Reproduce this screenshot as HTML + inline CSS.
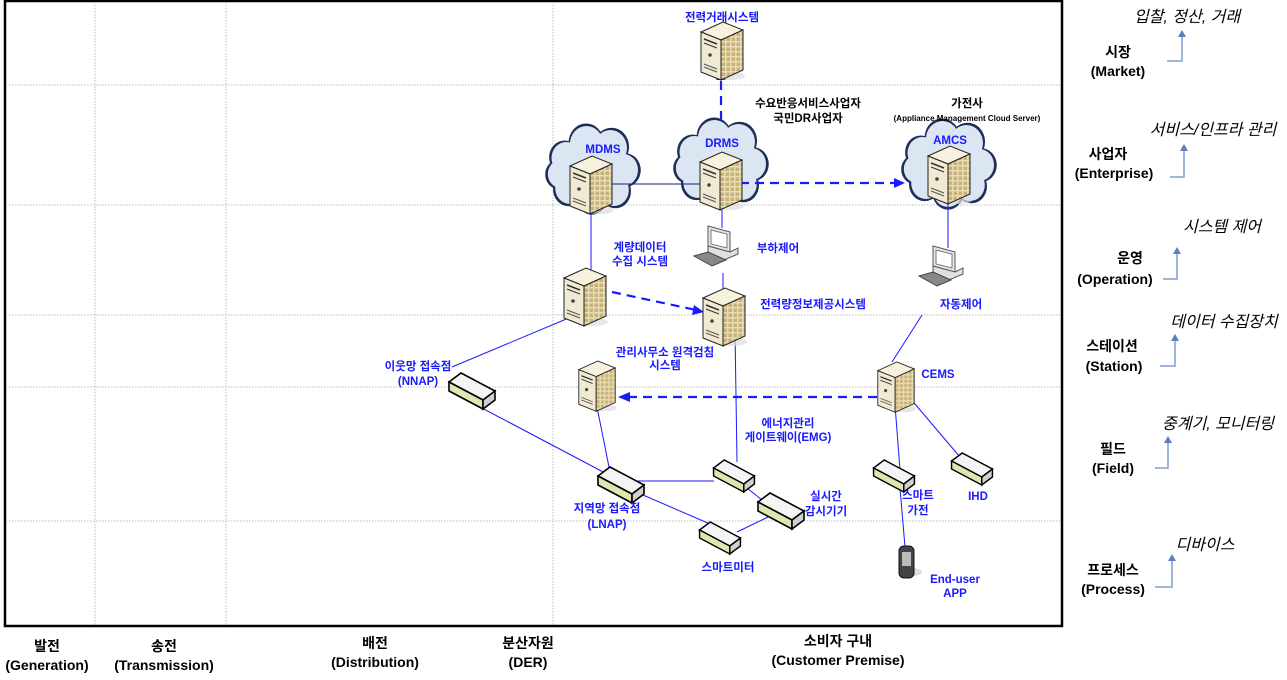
<!DOCTYPE html>
<html><head><meta charset="utf-8"><style>
body{margin:0;background:#fff;width:1287px;height:675px;overflow:hidden}
svg text{font-family:"Liberation Sans","Noto Sans CJK KR",sans-serif}
.b{fill:#1a1aff;font-size:11.5px;font-weight:bold;text-anchor:middle}
.k{fill:#000;font-size:11.5px;font-weight:bold;text-anchor:middle}
.L{fill:#000;font-size:14px;font-weight:bold;text-anchor:middle}
.i{fill:#000;font-size:16px;font-style:italic;text-anchor:middle}
.ln{stroke:#1a1aff;stroke-width:1;fill:none}
.ds{stroke:#1a1aff;stroke-width:2.2;fill:none;stroke-dasharray:9 6}
.g{stroke:#bbb;stroke-width:1;stroke-dasharray:1.5 1.5}
</style></head><body>
<svg width="1287" height="675" viewBox="0 0 1287 675">
<defs>
<pattern id="grid" width="5" height="5" patternUnits="userSpaceOnUse"><rect width="5" height="5" fill="#e8dcb4"/><rect x="0.5" y="0.5" width="3.5" height="3.5" fill="#c9b27a"/></pattern>
<symbol id="srv" viewBox="0 0 42 60" overflow="visible">
<ellipse cx="30" cy="54" rx="14" ry="4" fill="#ddd" opacity="0.7"/>
<polygon points="0,10 22,0 42,8 20,18" fill="#f7f2de" stroke="#222" stroke-width="1"/>
<polygon points="0,10 20,18 20,58 0,50" fill="#f1ead2" stroke="#222" stroke-width="1"/>
<polygon points="20,18 42,8 42,48 20,58" fill="url(#grid)" stroke="#222" stroke-width="1"/>
<line x1="3" y1="17" x2="16" y2="22" stroke="#333" stroke-width="1.5"/>
<line x1="3" y1="21" x2="16" y2="26" stroke="#333" stroke-width="1"/>
<circle cx="9" cy="33" r="1.8" fill="#444"/>
<line x1="3" y1="42" x2="16" y2="47" stroke="#555"/><line x1="3" y1="45" x2="16" y2="50" stroke="#555"/>
</symbol>
<symbol id="box" viewBox="0 0 46 36" overflow="visible">
<polygon points="0,9 12,0 46,18 34,27" fill="#f4f4f4" stroke="#000" stroke-width="1.6"/>
<polygon points="0,9 34,27 34,36 0,18" fill="#dfe7b0" stroke="#000" stroke-width="1.6"/>
<polygon points="34,27 46,18 46,27 34,36" fill="#d0d0d0" stroke="#000" stroke-width="1.6"/>
</symbol>
<symbol id="pc" viewBox="0 0 46 40" overflow="visible">
<polygon points="14,0 36,6 36,26 14,20" fill="#e8e8e8" stroke="#555"/>
<polygon points="17,4 33,8 33,22 17,18" fill="#fff" stroke="#777"/>
<polygon points="14,20 36,26 44,22 44,28 30,34 14,26" fill="#e0e0e0" stroke="#555"/>
<polygon points="0,30 14,26 32,34 18,40" fill="#888" stroke="#444"/>
</symbol>
<g id="cloudc">
<circle cx="-28" cy="-10" r="16"/><circle cx="-6" cy="-24" r="18"/><circle cx="20" cy="-20" r="18"/><circle cx="34" cy="2" r="16"/><circle cx="24" cy="22" r="16"/><circle cx="0" cy="28" r="16"/><circle cx="-24" cy="20" r="16"/><circle cx="-34" cy="6" r="14"/><circle cx="0" cy="0" r="30"/>
</g>
</defs>

<rect x="5" y="1" width="1057" height="625" fill="none" stroke="#000" stroke-width="2.5"/>
<line class="g" x1="95" y1="2" x2="95" y2="625"/>
<line class="g" x1="226" y1="2" x2="226" y2="625"/>
<line class="g" x1="553" y1="2" x2="553" y2="625"/>
<line class="g" x1="6" y1="85" x2="1061" y2="85"/>
<line class="g" x1="6" y1="205" x2="1061" y2="205"/>
<line class="g" x1="6" y1="315" x2="1061" y2="315"/>
<line class="g" x1="6" y1="387" x2="1061" y2="387"/>
<line class="g" x1="6" y1="521" x2="1061" y2="521"/>

<g transform="translate(592,168) scale(0.92,1)" fill="#1f2d5a"><use href="#cloudc" transform="scale(1.06)"/></g>
<g transform="translate(592,168) scale(0.92,1)" fill="#dce6f2"><use href="#cloudc"/></g>
<g transform="translate(720,162) scale(0.92,1)" fill="#1f2d5a"><use href="#cloudc" transform="scale(1.06)"/></g>
<g transform="translate(720,162) scale(0.92,1)" fill="#dce6f2"><use href="#cloudc"/></g>
<g transform="translate(948,163) scale(0.92,1)" fill="#1f2d5a"><use href="#cloudc" transform="scale(1.06)"/></g>
<g transform="translate(948,163) scale(0.92,1)" fill="#dce6f2"><use href="#cloudc"/></g>

<line x1="610" y1="184" x2="700" y2="184" stroke="#1a1a80" stroke-width="1"/>
<line class="ds" x1="721" y1="120" x2="721" y2="78"/>
<polygon points="716,80 726,80 721,70" fill="#1a1aff"/>
<line class="ds" x1="740" y1="183" x2="895" y2="183"/>
<polygon points="894,178 894,188 905,183" fill="#1a1aff"/>
<line class="ln" x1="591" y1="205" x2="591" y2="270"/>
<line class="ds" x1="612" y1="292" x2="696" y2="310"/>
<polygon points="694,305 692,315 704,312" fill="#1a1aff"/>
<line class="ln" x1="722" y1="208" x2="722" y2="228"/>
<line class="ln" x1="723" y1="273" x2="723" y2="290"/>
<line class="ln" x1="735" y1="330" x2="737" y2="462"/>
<line class="ln" x1="948" y1="203" x2="948" y2="248" stroke-width="2.2"/>
<line class="ln" x1="922" y1="315" x2="892" y2="362"/>
<line class="ln" x1="583" y1="312" x2="452" y2="367"/>
<line class="ln" x1="597" y1="407" x2="610" y2="472"/>
<line class="ln" x1="463" y1="398" x2="607" y2="474"/>
<line class="ln" x1="632" y1="481" x2="714" y2="481"/>
<line class="ln" x1="636" y1="492" x2="717" y2="527"/>
<line class="ln" x1="737" y1="532" x2="768" y2="517"/>
<line class="ln" x1="742" y1="484" x2="762" y2="500" stroke-width="2"/>
<line class="ds" x1="877" y1="397" x2="628" y2="397"/>
<polygon points="630,392 630,402 618,397" fill="#1a1aff"/>
<line class="ln" x1="895" y1="405" x2="900" y2="470"/>
<line class="ln" x1="900" y1="488" x2="905" y2="547"/>
<line class="ln" x1="909" y1="397" x2="960" y2="457"/>

<use href="#srv" x="701" y="22" width="42" height="60"/>
<use href="#srv" x="570" y="156" width="42" height="60"/>
<use href="#srv" x="700" y="152" width="42" height="60"/>
<use href="#srv" x="928" y="146" width="42" height="60"/>
<use href="#srv" x="564" y="268" width="42" height="60"/>
<use href="#srv" x="703" y="288" width="42" height="60"/>
<use href="#srv" x="578" y="361" width="38" height="52"/>
<use href="#srv" x="877" y="362" width="38" height="52"/>

<use href="#pc" x="694" y="226" width="46" height="40"/>
<use href="#pc" x="919" y="246" width="46" height="40"/>

<use href="#box" x="449" y="373" width="46" height="36"/>
<use href="#box" x="598" y="467" width="46" height="36"/>
<use href="#box" x="712" y="460" width="44" height="32"/>
<use href="#box" x="758" y="493" width="46" height="36"/>
<use href="#box" x="698" y="522" width="44" height="32"/>
<use href="#box" x="872" y="460" width="44" height="32"/>
<use href="#box" x="950" y="453" width="44" height="32"/>

<ellipse cx="912" cy="572" rx="10" ry="4" fill="#ddd"/>
<rect x="899" y="546" width="15" height="32" rx="5" fill="#444" stroke="#111"/>
<rect x="902" y="552" width="9" height="14" fill="#bbb"/>

<text class="b" x="722" y="21">전력거래시스템</text>
<text class="k" x="808" y="107">수요반응서비스사업자</text>
<text class="k" x="808" y="122">국민DR사업자</text>
<text class="k" x="967" y="107">가전사</text>
<text class="k" x="967" y="121" style="font-size:8px">(Appliance Management Cloud Server)</text>
<text class="b" x="603" y="153">MDMS</text>
<text class="b" x="722" y="147">DRMS</text>
<text class="b" x="950" y="144">AMCS</text>
<text class="b" x="778" y="252">부하제어</text>
<text class="b" x="640" y="251">계량데이터</text>
<text class="b" x="640" y="265">수집 시스템</text>
<text class="b" x="813" y="308">전력량정보제공시스템</text>
<text class="b" x="961" y="308">자동제어</text>
<text class="b" x="665" y="356">관리사무소 원격검침</text>
<text class="b" x="665" y="369">시스템</text>
<text class="b" x="418" y="370">이웃망 접속점</text>
<text class="b" x="418" y="385">(NNAP)</text>
<text class="b" x="938" y="378">CEMS</text>
<text class="b" x="788" y="427">에너지관리</text>
<text class="b" x="788" y="441">게이트웨이(EMG)</text>
<text class="b" x="826" y="500">실시간</text>
<text class="b" x="826" y="515">감시기기</text>
<text class="b" x="607" y="512">지역망 접속점</text>
<text class="b" x="607" y="528">(LNAP)</text>
<text class="b" x="728" y="571">스마트미터</text>
<text class="b" x="918" y="499">스마트</text>
<text class="b" x="918" y="514">가전</text>
<text class="b" x="978" y="500">IHD</text>
<text class="b" x="955" y="583">End-user</text>
<text class="b" x="955" y="597">APP</text>

<text class="L" x="47" y="651">발전</text><text class="L" x="47" y="670">(Generation)</text>
<text class="L" x="164" y="651">송전</text><text class="L" x="164" y="670">(Transmission)</text>
<text class="L" x="375" y="648">배전</text><text class="L" x="375" y="667">(Distribution)</text>
<text class="L" x="528" y="648">분산자원</text><text class="L" x="528" y="667">(DER)</text>
<text class="L" x="838" y="646">소비자 구내</text><text class="L" x="838" y="665">(Customer  Premise)</text>

<g stroke="#7f9fcf" stroke-width="1.5" fill="none">
<polyline points="1167,61 1182,61 1182,36"/>
<polyline points="1170,177 1184,177 1184,150"/>
<polyline points="1163,279 1177,279 1177,253"/>
<polyline points="1160,366 1175,366 1175,340"/>
<polyline points="1155,468 1168,468 1168,442"/>
<polyline points="1155,587 1172,587 1172,560"/>
</g>
<g fill="#5b7fbf">
<polygon points="1178,37 1186,37 1182,30"/>
<polygon points="1180,151 1188,151 1184,144"/>
<polygon points="1173,254 1181,254 1177,247"/>
<polygon points="1171,341 1179,341 1175,334"/>
<polygon points="1164,443 1172,443 1168,436"/>
<polygon points="1168,561 1176,561 1172,554"/>
</g>
<text class="i" x="1187" y="22">입찰, 정산, 거래</text>
<text class="L" x="1118" y="57">시장</text><text class="L" x="1118" y="76">(Market)</text>
<text class="i" x="1213" y="135">서비스/인프라 관리</text>
<text class="L" x="1108" y="159">사업자</text><text class="L" x="1114" y="178">(Enterprise)</text>
<text class="i" x="1222" y="232">시스템 제어</text>
<text class="L" x="1130" y="263">운영</text><text class="L" x="1115" y="284">(Operation)</text>
<text class="i" x="1224" y="327">데이터 수집장치</text>
<text class="L" x="1112" y="351">스테이션</text><text class="L" x="1114" y="371">(Station)</text>
<text class="i" x="1218" y="429">중계기, 모니터링</text>
<text class="L" x="1113" y="454">필드</text><text class="L" x="1113" y="473">(Field)</text>
<text class="i" x="1205" y="550">디바이스</text>
<text class="L" x="1113" y="575">프로세스</text><text class="L" x="1113" y="594">(Process)</text>
</svg>
</body></html>
